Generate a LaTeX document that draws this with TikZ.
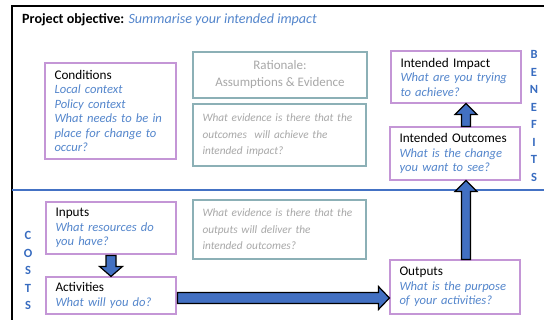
\documentclass[tikz,border=0pt]{standalone}
\usepackage{fontspec}
\setmainfont{Carlito}
\usetikzlibrary{calc}

\definecolor{boxpurple}{RGB}{196,150,214}
\definecolor{boxteal}{RGB}{140,176,182}
\definecolor{askblue}{RGB}{84,134,204}
\definecolor{softgray}{RGB}{168,168,168}
\definecolor{ruleblue}{RGB}{68,114,196}
\definecolor{arrowblue}{RGB}{66,112,194}
\definecolor{letterblue}{RGB}{56,108,192}

\newcommand{\stagehead}[1]{{\fontsize{13.2}{14.5}\selectfont #1}}
\newcommand{\askline}[1]{\textcolor{askblue}{\itshape #1}}

\tikzset{
  stagebox/.style={draw=boxpurple, line width=1.1pt, rectangle, inner xsep=9.5pt, inner ysep=0pt,
    align=left, font=\fontsize{12.6}{14.5}\selectfont},
  reasonbox/.style={draw=boxteal, line width=1.1pt, rectangle, inner xsep=9.5pt, inner ysep=0pt,
    text=softgray},
  blockarrow/.style={fill=arrowblue, draw=black, line width=1.2pt, line join=miter},
  spine/.style={text=letterblue, font=\bfseries\fontsize{12.5}{17.5}\selectfont, align=center},
}

\begin{document}
\begin{tikzpicture}[x=1pt, y=-1pt]
  \useasboundingbox (0,0) rectangle (544,320);
  \clip (0,0) rectangle (544,320);
  \fill[white] (0,0) rectangle (544,320);

  % outer frame and the costs/benefits divider
  \draw[line width=1.3pt] (12,6) rectangle (570,340);
  \coordinate (divL) at (12,190);
  \coordinate (divR) at (544,190);
  \draw[ruleblue, line width=1.4pt] (divL) -- (divR);

  % heading
  \node[anchor=base west, inner sep=0pt, font=\fontsize{14.1}{16}\selectfont] (obj) at (22,24)
    {\textbf{Project objective:} \textcolor{askblue}{\itshape Summarise your intended impact}};

  % left column
  \node[stagebox, minimum width=131pt, minimum height=96pt, text width=112pt] (cond) at (110.5,111)
    {\stagehead{Conditions}\\ \askline{Local context}\\ \askline{Policy context}\\
     \askline{What needs to be in}\\ \askline{place for change to}\\ \askline{occur?}};
  \node[stagebox, minimum width=130pt, minimum height=52pt, text width=111pt] (inp) at (111,228)
    {\stagehead{Inputs}\\ \askline{What resources do}\\ \askline{you have?}};
  \node[stagebox, minimum width=130pt, minimum height=37pt, text width=111pt] (act) at (111,295.5)
    {\stagehead{Activities}\\ \askline{What will you do?}};

  % middle column
  \node[reasonbox, minimum width=174pt, minimum height=46pt, align=center,
        font=\fontsize{13}{17}\selectfont] (rat) at (280,75)
    {Rationale:\\ Assumptions \& Evidence};
  \node[reasonbox, minimum width=173pt, minimum height=62pt, text width=154pt, align=left,
        font=\itshape\fontsize{11.3}{16.5}\selectfont] (ev1) at (279.5,135)
    {What evidence is there that the\\ outcomes \ will achieve the\\ intended impact?};
  \node[reasonbox, minimum width=173pt, minimum height=59pt, text width=154pt, align=left,
        font=\itshape\fontsize{11.3}{16.5}\selectfont] (ev2) at (279.5,229.5)
    {What evidence is there that the\\ outputs will deliver the\\ intended outcomes?};

  % right column
  \node[stagebox, minimum width=130pt, minimum height=52pt, text width=111pt] (imp) at (456,77)
    {\stagehead{Intended Impact}\\ \askline{What are you trying}\\ \askline{to achieve?}};
  \node[stagebox, minimum width=130pt, minimum height=53pt, text width=111pt] (outc) at (455,153.5)
    {\stagehead{Intended Outcomes}\\ \askline{What is the change}\\ \askline{you want to see?}};
  \node[stagebox, minimum width=130pt, minimum height=54pt, text width=111pt] (out) at (455,287)
    {\stagehead{Outputs}\\ \askline{What is the purpose}\\ \askline{of your activities?}};

  % side labels
  \node[spine, anchor=north] (benefits) at (534,47) {B\\E\\N\\E\\F\\I\\T\\S};
  \node[spine, anchor=north] (costs) at (28,228) {C\\O\\S\\T\\S};

  % inputs -> activities
  \draw[blockarrow] ($(inp.south)+(-5,1)$) -- ($(act.north)+(-5,-10)$) -- ($(act.north)+(-11.5,-10)$)
    -- (act.north) -- ($(act.north)+(11.5,-10)$) -- ($(act.north)+(5,-10)$) -- ($(inp.south)+(5,1)$) -- cycle;

  % activities -> outputs
  \coordinate (hs) at ($(act.east)+(1,2.5)$);
  \coordinate (ht) at (out.west |- hs);
  \draw[blockarrow] ($(hs)+(0,-5.5)$) -- ($(ht)+(-11,-5.5)$) -- ($(ht)+(-11,-11.5)$) -- (ht)
    -- ($(ht)+(-11,11.5)$) -- ($(ht)+(-11,5.5)$) -- ($(hs)+(0,5.5)$) -- cycle;

  % outputs -> intended outcomes
  \coordinate (vs) at ($(out.north)+(11,0)$);
  \coordinate (vt) at (vs |- outc.south);
  \draw[blockarrow] ($(vs)+(-4.5,0)$) -- ($(vt)+(-4.5,11)$) -- ($(vt)+(-11,11)$) -- (vt)
    -- ($(vt)+(11,11)$) -- ($(vt)+(4.5,11)$) -- ($(vs)+(4.5,0)$) -- cycle;

  % intended outcomes -> intended impact
  \coordinate (ws) at ($(outc.north)+(11,0)$);
  \coordinate (wt) at (ws |- imp.south);
  \draw[blockarrow] ($(ws)+(-4.5,0)$) -- ($(wt)+(-4.5,11)$) -- ($(wt)+(-11,11)$) -- (wt)
    -- ($(wt)+(11,11)$) -- ($(wt)+(4.5,11)$) -- ($(ws)+(4.5,0)$) -- cycle;
\end{tikzpicture}
\end{document}
